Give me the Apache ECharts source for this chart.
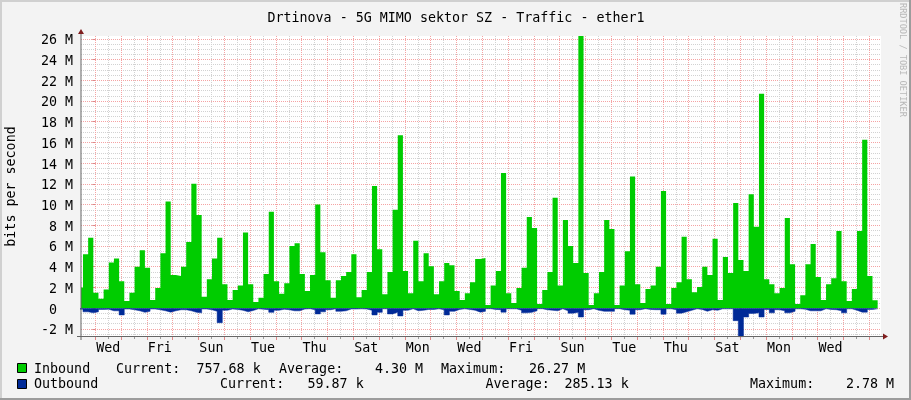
<!DOCTYPE html>
<html>
<head>
    <meta charset="utf-8">
    <title>Drtinova - Traffic - ether1</title>
    <style>
        html, body { margin: 0; padding: 0; background: #f3f3f3; }
        #main { width: 911px; height: 400px; }
    </style>
    <script src="https://cdn.jsdelivr.net/npm/echarts@6/dist/echarts.min.js"></script>
</head>
<body>
<div id="main"></div>
<script>
// values in Mbit/s, 5 samples per day
var inbound = [
    2.0, 5.2, 6.8, 1.5, 0.9, 1.8, 4.4, 4.8, 2.6, 0.7, 1.5, 4.0, 5.6, 3.9, 0.8, 1.95, 5.3, 10.3, 3.2, 3.1,
    4.0, 6.4, 12.0, 9.0, 1.1, 2.8, 4.8, 6.8, 2.3, 0.8, 1.75, 2.2, 7.3, 2.3, 0.6, 1.0, 3.3, 9.3, 2.6, 1.4,
    2.4, 6.0, 6.26, 3.3, 1.65, 3.2, 10.0, 5.4, 2.7, 1.0, 2.7, 3.1, 3.5, 5.2, 1.05, 1.75, 3.5, 11.8, 5.7, 1.35,
    3.5, 9.5, 16.7, 3.6, 1.45, 6.5, 2.6, 5.3, 4.05, 1.35, 2.6, 4.35, 4.15, 1.65, 0.8, 1.45, 2.5, 4.75, 4.85, 0.3,
    2.2, 3.6, 13.05, 1.45, 0.5, 1.95, 3.9, 8.8, 7.75, 0.4, 1.75, 3.5, 10.65, 2.2, 8.5, 6.0, 4.35, 26.27, 3.4, 0.3,
    1.45, 3.5, 8.5, 7.65, 0.3, 2.2, 5.5, 12.7, 2.3, 0.5, 1.85, 2.2, 4.0, 11.3, 0.4, 1.95, 2.5, 6.9, 2.8, 1.55,
    2.05, 4.0, 3.2, 6.7, 0.8, 4.95, 3.4, 10.15, 4.65, 3.6, 11.0, 7.85, 20.7, 2.8, 2.3, 1.45, 1.95, 8.7, 4.25, 0.4,
    1.25, 4.25, 6.2, 3.0, 0.8, 2.3, 2.9, 7.45, 2.6, 0.7, 1.85, 7.45, 16.25, 3.1, 0.76
];
var outbound = [
    0.1, 0.35, 0.45, 0.35, 0.12, 0.1, 0.25, 0.25, 0.65, 0.08, 0.15, 0.25, 0.4, 0.3, 0.08, 0.15, 0.25, 0.38, 0.25, 0.15,
    0.15, 0.25, 0.4, 0.45, 0.08, 0.15, 0.3, 1.4, 0.2, 0.08, 0.12, 0.2, 0.35, 0.22, 0.06, 0.1, 0.15, 0.4, 0.2, 0.1,
    0.15, 0.25, 0.25, 0.08, 0.05, 0.15, 0.55, 0.35, 0.15, 0.06, 0.3, 0.25, 0.08, 0.08, 0.06, 0.08, 0.2, 0.65, 0.4, 0.06,
    0.55, 0.4, 0.75, 0.2, 0.06, 0.25, 0.2, 0.12, 0.12, 0.06, 0.15, 0.65, 0.3, 0.12, 0.06, 0.12, 0.2, 0.38, 0.3, 0.05,
    0.12, 0.15, 0.38, 0.06, 0.06, 0.2, 0.45, 0.4, 0.25, 0.05, 0.15, 0.2, 0.25, 0.06, 0.25, 0.48, 0.4, 0.85, 0.15, 0.05,
    0.2, 0.3, 0.3, 0.3, 0.05, 0.15, 0.2, 0.58, 0.15, 0.05, 0.12, 0.15, 0.15, 0.58, 0.06, 0.15, 0.48, 0.35, 0.2, 0.06,
    0.12, 0.3, 0.15, 0.2, 0.06, 0.06, 0.06, 1.2, 2.78, 0.85, 0.5, 0.45, 0.85, 0.12, 0.45, 0.15, 0.25, 0.45, 0.3, 0.06,
    0.1, 0.25, 0.25, 0.25, 0.06, 0.12, 0.15, 0.25, 0.45, 0.06, 0.2, 0.38, 0.38, 0.12, 0.06
];
var dayLabels = ['Wed', 'Fri', 'Sun', 'Tue', 'Thu', 'Sat', 'Mon', 'Wed', 'Fri', 'Sun', 'Tue', 'Thu', 'Sat', 'Mon', 'Wed'];
var yTicks = [-2, 0, 2, 4, 6, 8, 10, 12, 14, 16, 18, 20, 22, 24, 26];
var legendRow1 = [[34, 'Inbound'], [116, 'Current:'], [196.5, '757.68 k'], [279, 'Average:'], [375, '4.30 M'], [441, 'Maximum:'], [529, '26.27 M']];
var legendRow2 = [[34, 'Outbound'], [220, 'Current:'], [307.5, '59.87 k'], [485.5, 'Average:'], [564.5, '285.13 k'], [750, 'Maximum:'], [846, '2.78 M']];

var font = '"DejaVu Sans Mono", monospace';
var fontSize = 13.33;

// x axis is in days, 0 = first midnight on the graph
var xMin = -0.554, xMax = 30.453;
var firstSample = -0.677, sampleStep = 0.2;

function toPoints(values, sign) {
    var pts = values.map(function (v, i) { return [firstSample + sampleStep * i, sign * v]; });
    // closes the last step
    pts.push([firstSample + sampleStep * values.length, sign * values[values.length - 1]]);
    return pts;
}

var midnights = [], noons = [], labelDays = [], minorY = [];
for (var d = 0; d <= 30; d++) { midnights.push(d); noons.push(d + 0.5); }
dayLabels.forEach(function (n, i) { labelDays.push(i * 2 + 0.5); });
for (var m = -2.5; m <= 26; m += 0.5) { if (m % 2 !== 0) minorY.push(m); }

var redGrid = { color: '#f5a3a3', width: 1, type: [1, 1] };
var grayGrid = { color: '#d2d2d2', width: 1, type: [1, 1] };

var graphic = [
    { type: 'rect', shape: { x: 0, y: 0, width: 911, height: 2 }, style: { fill: '#d0d0d0' }, silent: true },
    { type: 'rect', shape: { x: 0, y: 0, width: 2, height: 400 }, style: { fill: '#d0d0d0' }, silent: true },
    { type: 'rect', shape: { x: 909, y: 0, width: 2, height: 400 }, style: { fill: '#9c9c9c' }, silent: true },
    { type: 'rect', shape: { x: 0, y: 398, width: 911, height: 2 }, style: { fill: '#9c9c9c' }, silent: true },
    // axis stubs and arrow heads
    { type: 'rect', shape: { x: 80.5, y: 33, width: 1, height: 307 }, style: { fill: '#666' }, silent: true, z: 20 },
    { type: 'rect', shape: { x: 77, y: 336, width: 807, height: 1 }, style: { fill: '#666' }, silent: true, z: 20 },
    { type: 'polygon', shape: { points: [[81, 29], [78, 34], [84, 34]] }, style: { fill: '#7f1d1d' }, silent: true, z: 21 },
    { type: 'polygon', shape: { points: [[888, 336.5], [883, 333.5], [883, 339.5]] }, style: { fill: '#7f1d1d' }, silent: true, z: 21 },
    // legend swatches
    { type: 'rect', shape: { x: 17.5, y: 363.5, width: 9, height: 9 }, style: { fill: '#00cc00', stroke: '#000', lineWidth: 1 }, silent: true },
    { type: 'rect', shape: { x: 17.5, y: 379.5, width: 9, height: 9 }, style: { fill: '#002a97', stroke: '#000', lineWidth: 1 }, silent: true },
    {
        type: 'text', x: 907, y: 3, rotation: -Math.PI / 2, silent: true,
        style: { text: 'RRDTOOL / TOBI OETIKER', fill: '#b8b8b8', font: '8.6px ' + font, textAlign: 'left', textVerticalAlign: 'top' }
    }
];
function addRow(row, y) {
    row.forEach(function (p) {
        graphic.push({
            type: 'text', x: p[0], y: y, silent: true,
            style: { text: p[1], fill: '#000', font: fontSize + 'px ' + font, textVerticalAlign: 'middle' }
        });
    });
}
addRow(legendRow1, 369.5);
addRow(legendRow2, 385);

var myChart = echarts.init(document.getElementById('main'), null, { renderer: 'canvas' });
myChart.setOption({
    backgroundColor: '#f3f3f3',
    animation: false,
    title: {
        text: 'Drtinova - 5G MIMO sektor SZ - Traffic - ether1',
        left: 451, top: 7, textAlign: 'center',
        textStyle: { fontFamily: font, fontSize: fontSize, fontWeight: 'normal', color: '#000' }
    },
    grid: { left: 81, top: 36, width: 800, height: 301, backgroundColor: '#fff', show: true, borderWidth: 0, outerBoundsMode: 'none' },
    xAxis: [
        {
            type: 'value', min: xMin, max: xMax, position: 'bottom',
            axisLine: { show: false, onZero: false },
            axisTick: { show: true, length: 3, customValues: midnights, lineStyle: { color: '#d88' } },
            splitLine: { show: true, lineStyle: redGrid },
            axisLabel: {
                show: true, customValues: labelDays, margin: 5, color: '#000',
                fontFamily: font, fontSize: fontSize,
                formatter: function (v) { return dayLabels[(v - 0.5) / 2]; }
            }
        },
        {
            type: 'value', min: xMin, max: xMax, position: 'bottom',
            axisLine: { show: false, onZero: false },
            axisTick: { show: true, length: 2, customValues: noons, lineStyle: { color: '#999' } },
            splitLine: { show: true, lineStyle: grayGrid },
            axisLabel: { show: false }
        }
    ],
    yAxis: [
        {
            type: 'value', min: -2.78, max: 26.27, position: 'left',
            name: 'bits per second', nameLocation: 'middle', nameRotate: 90, nameGap: 63,
            nameTextStyle: { fontFamily: font, fontSize: fontSize, color: '#000' },
            axisLine: { show: false },
            axisTick: { show: true, length: 3, customValues: yTicks, lineStyle: { color: '#d88' } },
            splitLine: { show: true, lineStyle: redGrid },
            axisLabel: {
                show: true, customValues: yTicks, margin: 8, color: '#000',
                fontFamily: font, fontSize: fontSize, verticalAlign: 'top', lineHeight: 4,
                formatter: function (v) { return v === 0 ? '0  ' : v + ' M'; }
            }
        },
        {
            type: 'value', min: -2.78, max: 26.27, position: 'left',
            axisLine: { show: false },
            axisTick: { show: false, customValues: minorY },
            splitLine: { show: true, lineStyle: grayGrid },
            axisLabel: { show: false }
        }
    ],
    series: [
        {
            name: 'Inbound', type: 'line', step: 'end', showSymbol: false, silent: true,
            data: toPoints(inbound, 1),
            lineStyle: { width: 0 },
            areaStyle: { color: '#00cc00', opacity: 1 },
            itemStyle: { color: '#00cc00' }
        },
        {
            name: 'Outbound', type: 'line', step: 'end', showSymbol: false, silent: true,
            data: toPoints(outbound, -1),
            lineStyle: { width: 0.5, color: '#002a97' },
            areaStyle: { color: '#002a97', opacity: 1 },
            itemStyle: { color: '#002a97' }
        }
    ],
    graphic: graphic
});
</script>
</body>
</html>
